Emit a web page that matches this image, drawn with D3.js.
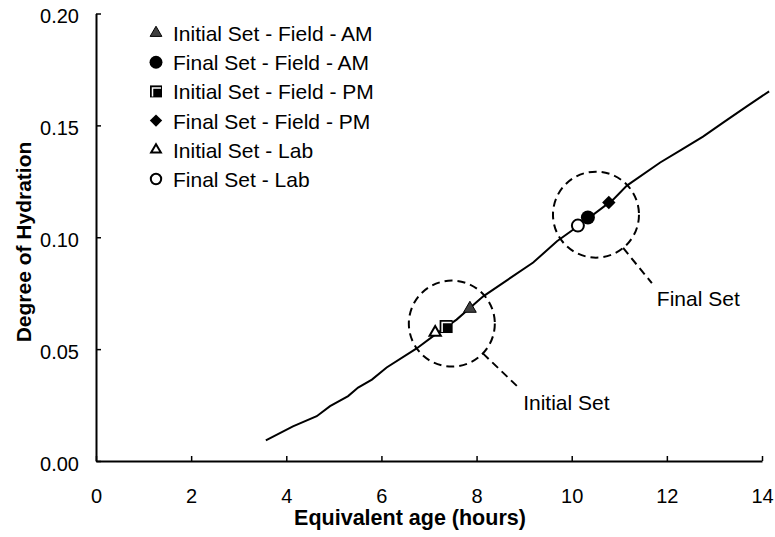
<!DOCTYPE html>
<html>
<head>
<meta charset="utf-8">
<script src="https://cdn.jsdelivr.net/npm/d3@7"></script>
<style>
  body { margin: 0; background: #fff; }
  svg text { font-family: "Liberation Sans", Arial, sans-serif; fill: #000; }
</style>
</head>
<body>
<svg id="chart" width="775" height="537"></svg>
<script>
// hydration curve
var curveAge = [3.57, 4.14, 4.64, 4.92, 5.30, 5.51, 5.80, 6.11, 6.74, 7.13, 7.58, 8.14, 9.19, 9.69, 10.13, 10.87, 11.16, 11.86, 12.31, 12.76, 13.22, 13.68, 14.15];
var curveDoh = [0.0092, 0.0155, 0.0200, 0.0245, 0.0290, 0.0328, 0.0364, 0.0418, 0.0503, 0.0565, 0.0632, 0.0736, 0.0887, 0.0982, 0.1049, 0.1168, 0.1231, 0.1334, 0.1392, 0.1450, 0.1518, 0.1585, 0.1652];

// set points
var setNames = ["Initial Set - Field - AM", "Final Set - Field - AM", "Initial Set - Field - PM", "Final Set - Field - PM", "Initial Set - Lab", "Final Set - Lab"];
var setAge = [7.86, 10.34, 7.36, 10.78, 7.13, 10.13];
var setDoh = [0.0681, 0.1088, 0.0601, 0.1155, 0.0574, 0.1052];

// annotation circles
var annoLabels = ["Initial Set", "Final Set"];
var annoAge = [7.48, 10.51];
var annoDoh = [0.0614, 0.1101];
var labelAge = [8.98, 11.79];
var labelDoh = [0.0227, 0.0692];

var xTicks = [0, 2, 4, 6, 8, 10, 12, 14];
var yTicks = [0, 0.05, 0.10, 0.15, 0.20];

var svg = d3.select('#chart');
var x = d3.scaleLinear().domain([0, 14]).range([96, 762]);
var y = d3.scaleLinear().domain([0, 0.20]).range([461, 13.5]);

// axes, ticks pointing inward
var xAxis = svg.append('g').attr('transform', 'translate(0,461)')
  .call(d3.axisBottom(x).tickValues(xTicks).tickSizeInner(-5).tickSizeOuter(0).tickPadding(28).tickFormat(d3.format('d')));
var yAxis = svg.append('g').attr('transform', 'translate(96,0)')
  .call(d3.axisLeft(y).tickValues(yTicks).tickSizeInner(-5).tickSizeOuter(0).tickPadding(17).tickFormat(d3.format('.2f')));
svg.selectAll('.domain').attr('stroke', '#000').attr('stroke-width', 2);
svg.selectAll('.tick line').attr('stroke', '#000').attr('stroke-width', 1.5);
svg.selectAll('.tick text').attr('font-size', 20).attr('font-family', '"Liberation Sans", Arial, sans-serif').attr('fill', '#000');
yAxis.selectAll('.tick text').attr('dy', '0.45em');

svg.append('text').attr('x', 410).attr('y', 525).attr('text-anchor', 'middle')
  .attr('font-size', 21.5).attr('font-weight', 'bold').text('Equivalent age (hours)');
svg.append('text').attr('transform', 'translate(31,242) rotate(-90)').attr('text-anchor', 'middle')
  .attr('font-size', 21).attr('font-weight', 'bold').text('Degree of Hydration');

// curve
var line = d3.line().x(function(d, i) { return x(curveAge[i]); }).y(function(d) { return y(d); });
svg.append('path').datum(curveDoh).attr('d', line)
  .attr('fill', 'none').attr('stroke', '#000').attr('stroke-width', 2);

// dashed circles + leaders
var R = 43;
annoLabels.forEach(function(lbl, i) {
  var cx = x(annoAge[i]), cy = y(annoDoh[i]);
  var lx = x(labelAge[i]), ly = y(labelDoh[i]);
  svg.append('circle').attr('cx', cx).attr('cy', cy).attr('r', R)
    .attr('fill', 'none').attr('stroke', '#000').attr('stroke-width', 2).attr('stroke-dasharray', '8,5');
  var ex = lx - 5, ey = ly - 23;
  var a = Math.atan2(ey - cy, ex - cx);
  svg.append('line').attr('x1', cx + R * Math.cos(a)).attr('y1', cy + R * Math.sin(a))
    .attr('x2', ex).attr('y2', ey)
    .attr('stroke', '#000').attr('stroke-width', 2).attr('stroke-dasharray', '8,5');
  svg.append('text').attr('x', lx).attr('y', ly).attr('font-size', 21).text(lbl);
});

// markers
function drawMarker(g, i, px, py, s) {
  if (i == 0) {
    g.append('path').attr('d', d3.symbol(d3.symbolTriangle, 70 * s)()).attr('transform', 'translate(' + px + ',' + py + ')')
      .attr('fill', '#404040').attr('stroke', '#000').attr('stroke-width', 1);
  } else if (i == 1) {
    g.append('circle').attr('cx', px).attr('cy', py).attr('r', 7 * Math.sqrt(s)).attr('fill', '#000');
  } else if (i == 2) {
    var h = 6.5 * Math.sqrt(s);
    g.append('rect').attr('x', px - h).attr('y', py - h).attr('width', 2 * h).attr('height', 2 * h).attr('fill', '#000');
    g.append('path').attr('d', 'M' + (px - h + 2.5) + ',' + (py + h - 1) + 'V' + (py - h + 2.5) + 'H' + (px + h - 1))
      .attr('fill', 'none').attr('stroke', '#fff').attr('stroke-width', 1.5);
  } else if (i == 3) {
    g.append('path').attr('d', d3.symbol(d3.symbolSquare, 90 * s)())
      .attr('transform', 'translate(' + px + ',' + py + ') rotate(45)')
      .attr('fill', '#000');
  } else if (i == 4) {
    g.append('path').attr('d', d3.symbol(d3.symbolTriangle, 55 * s)()).attr('transform', 'translate(' + px + ',' + py + ')')
      .attr('fill', '#fff').attr('stroke', '#000').attr('stroke-width', 2);
  } else {
    g.append('circle').attr('cx', px).attr('cy', py).attr('r', 6 * Math.sqrt(s)).attr('fill', '#fff')
      .attr('stroke', '#000').attr('stroke-width', 2);
  }
}

var marks = svg.append('g');
setNames.forEach(function(n, i) {
  drawMarker(marks, i, x(setAge[i]), y(setDoh[i]), 1);
});

// legend
var legend = svg.append('g');
setNames.forEach(function(n, i) {
  var ly = 33 + i * 29.2;
  drawMarker(legend, i, 156, ly, i == 4 || i == 5 ? 0.75 : 0.85);
  legend.append('text').attr('x', 173).attr('y', ly + 8).attr('font-size', 21).text(n);
});
</script>
</body>
</html>
